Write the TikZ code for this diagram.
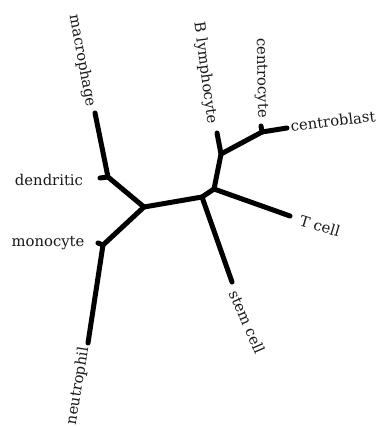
\documentclass[tikz,border=0pt]{standalone}
\usepackage{fontspec}
\setmainfont{DejaVu Serif}
\begin{document}
\begin{tikzpicture}[x=1pt,y=-1pt,
  branch/.style={line width=5pt, line cap=round, line join=round, black},
  lbl/.style={font=\fontsize{14.8}{16}\selectfont, inner sep=0pt, text=black!90}]
\useasboundingbox[fill=white] (0,0) rectangle (378,427);
% junctions
\coordinate (A) at (144,207);
\coordinate (J1) at (202,197);
\coordinate (J2) at (214,189);
\coordinate (J3) at (221,154);
\coordinate (J4) at (262,132);
\coordinate (D) at (108,177);
\coordinate (M) at (103,245);
% tips
\coordinate (tMac) at (95,113);
\coordinate (tDen) at (100,178);
\coordinate (tMon) at (98,243);
\coordinate (tNeu) at (88,343);
\coordinate (tBly) at (217,133);
\coordinate (tCcy) at (261,126);
\coordinate (tCbl) at (287,128);
\coordinate (tTce) at (290,216);
\coordinate (tSte) at (232,282);
% branches
\draw[branch] (A) -- (J1) -- (J2);
\draw[branch] (A) -- (D) -- (tMac);
\draw[branch] (D) -- (tDen);
\draw[branch] (A) -- (M) -- (tNeu);
\draw[branch] (M) -- (tMon);
\draw[branch] (J1) -- (tSte);
\draw[branch] (J2) -- (tTce);
\draw[branch] (J2) -- (J3) -- (tBly);
\draw[branch] (J3) -- (J4) -- (tCbl);
\draw[branch] (J4) -- (tCcy);
% labels
\node[lbl, rotate=-79.5] (lMac) at (82,61) {macrophage};
\node[lbl] (lDen) at (49,180) {dendritic};
\node[lbl] (lMon) at (48,243) {monocyte};
\node[lbl, rotate=80.5] (lNeu) at (78,386) {neutrophil};
\node[lbl, rotate=-82.5] (lBly) at (205,73) {B lymphocyte};
\node[lbl, rotate=-89] (lCcy) at (261,78) {centrocyte};
\node[lbl, rotate=7] (lCbl) at (333,121) {centroblast};
\node[lbl, rotate=-17] (lTce) at (320,226) {T cell};
\node[lbl, rotate=-66.5] (lSte) at (247,322) {stem cell};
\end{tikzpicture}
\end{document}
